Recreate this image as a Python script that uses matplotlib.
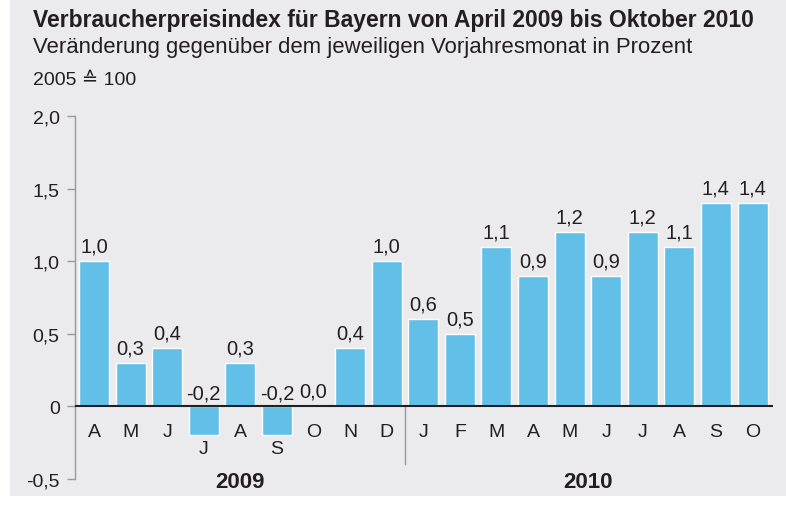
import matplotlib.pyplot as plt
from matplotlib.patches import Rectangle

plt.rcParams['font.family'] = ['Liberation Sans', 'DejaVu Sans']

# Data
months = ["A", "M", "J", "J", "A", "S", "O", "N", "D",
          "J", "F", "M", "A", "M", "J", "J", "A", "S", "O"]
values = [1.0, 0.3, 0.4, -0.2, 0.3, -0.2, 0.0, 0.4, 1.0,
          0.6, 0.5, 1.1, 0.9, 1.2, 0.9, 1.2, 1.1, 1.4, 1.4]
years = ["2009", "2010"]
year_counts = [9, 10]
yticks = [-0.5, 0, 0.5, 1.0, 1.5, 2.0]

bg = "#ebebed"
bar_color = "#62bfe8"
txt = "#231f20"

fig = plt.figure(figsize=(7.86, 5.10), dpi=100)
fig.patch.set_facecolor("white")
fig.patches.append(Rectangle((10 / 786, 13 / 510), 1, 1, transform=fig.transFigure,
                             facecolor=bg, edgecolor="none", zorder=-10))

ax = fig.add_axes([75 / 786, 1 - 480 / 510, (773 - 75) / 786, (480 - 117) / 510])
ax.set_facecolor("none")

x = list(range(len(values)))
ax.bar(x, values, width=0.82, color=bar_color, edgecolor="white", linewidth=1, zorder=2)

ax.set_xlim(-0.52, 18.56)
ax.set_ylim(-0.5, 2.0)

# value labels and month labels
for i, v in enumerate(values):
    lab = f"{v:.1f}".replace(".", ",")
    if v < 0:
        ax.annotate(lab, (i, 0), xytext=(0, 3), textcoords="offset points",
                    ha="center", va="bottom", fontsize=14.5, color=txt)
        ax.text(i, -0.29, months[i], ha="center", va="center", fontsize=14, color=txt)
    else:
        ax.annotate(lab, (i, v), xytext=(0, 4), textcoords="offset points",
                    ha="center", va="bottom", fontsize=14.5, color=txt)
        ax.text(i, -0.175, months[i], ha="center", va="center", fontsize=14, color=txt)

# year labels and separator
start = 0
for yr, n in zip(years, year_counts):
    ax.text(start + (n - 1) / 2, -0.52, yr, ha="center", va="center",
            fontsize=16, fontweight="bold", color=txt)
    start += n
ax.plot([8.5, 8.5], [0, -0.4], color="#999999", lw=1, zorder=1)

ax.axhline(0, color="#231f20", lw=1.5, zorder=3)

ax.set_yticks(yticks)
ax.set_yticklabels([("0" if t == 0 else f"{t:.1f}".replace(".", ",")) for t in yticks],
                   fontsize=14, color=txt)
ax.tick_params(axis="y", length=6, width=1, color="#999999", pad=5)
ax.set_xticks([])
for s in ["top", "right", "bottom"]:
    ax.spines[s].set_visible(False)
ax.spines["left"].set_color("#999999")
ax.spines["left"].set_linewidth(1)

fig.text(33 / 786, 1 - 27 / 510, "Verbraucherpreisindex für Bayern von April 2009 bis Oktober 2010",
         fontsize=16.5, fontweight="bold", color=txt, va="baseline", ha="left")
fig.text(33 / 786, 1 - 53 / 510, "Veränderung gegenüber dem jeweiligen Vorjahresmonat in Prozent",
         fontsize=15.9, color=txt, va="baseline", ha="left")
fig.text(33 / 786, 1 - 85 / 510, "2005 ≙ 100", fontsize=14, color=txt, va="baseline", ha="left")

fig.savefig("out.png", dpi=100, facecolor=fig.get_facecolor())
